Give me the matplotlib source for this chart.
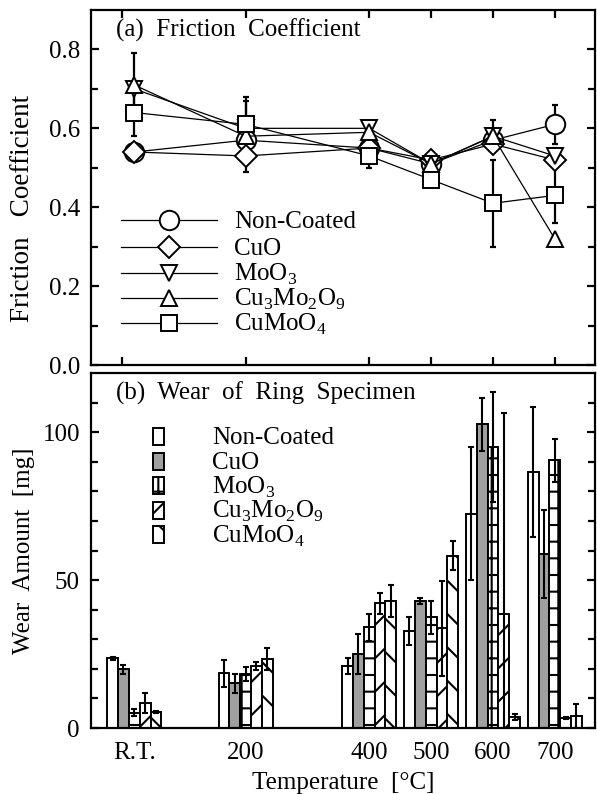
import matplotlib
matplotlib.use("Agg")
import matplotlib.pyplot as plt
import numpy as np
from matplotlib.patches import Rectangle

plt.rcParams['font.family'] = ['Liberation Serif', 'DejaVu Serif']
plt.rcParams['font.size'] = 18
plt.rcParams['mathtext.fontset'] = 'custom'
plt.rcParams['mathtext.rm'] = 'Liberation Serif'
plt.rcParams['hatch.linewidth'] = 1.5

# temperatures (R.T. plotted at 20 C)
temps = np.array([20, 200, 400, 500, 600, 700])
temp_labels = ["R.T.", "200", "400", "500", "600", "700"]

labels = ["Non-Coated", "CuO", "MoO$_3$", "Cu$_3$Mo$_2$O$_9$", "CuMoO$_4$"]

# (a) friction coefficient
fc_noncoated = [0.54, 0.57, 0.55, 0.51, 0.57, 0.61]
fc_cuo = [0.54, 0.53, 0.55, 0.52, 0.56, 0.52]
fc_moo3 = [0.70, 0.60, 0.60, 0.51, 0.58, 0.53]
fc_cu3mo2o9 = [0.71, 0.58, 0.59, 0.51, 0.58, 0.32]
fc_cumoo4 = [0.64, 0.61, 0.53, 0.47, 0.41, 0.43]

fc_err_noncoated = [0, 0, 0, 0, 0, 0.05]
fc_err_cuo = [0, 0, 0, 0, 0, 0]
fc_err_moo3 = [0, 0, 0, 0, 0.04, 0.02]
fc_err_cu3mo2o9 = [0.08, 0.09, 0, 0, 0, 0]
fc_err_cumoo4 = [0.06, 0.07, 0.03, 0, 0.11, 0.07]

# (b) wear of ring specimen [mg]
wear_noncoated = [23.5, 18.5, 20.9, 32.9, 72.5, 86.6]
wear_cuo = [19.8, 15.1, 25.0, 42.9, 102.7, 58.8]
wear_moo3 = [5.2, 18.2, 34.0, 37.4, 95.0, 90.5]
wear_cu3mo2o9 = [8.5, 20.9, 42.1, 33.7, 38.4, 3.5]
wear_cumoo4 = [5.5, 23.4, 42.9, 58.2, 3.8, 4.1]

wear_err_noncoated = [0.5, 4.5, 2.8, 4.7, 22.5, 22.0]
wear_err_cuo = [1.5, 3.3, 6.9, 1.0, 9.0, 15.0]
wear_err_moo3 = [1.1, 2.4, 4.6, 5.6, 18.7, 7.3]
wear_err_cu3mo2o9 = [3.5, 1.4, 3.7, 16.0, 68.0, 0.3]
wear_err_cumoo4 = [0.3, 3.8, 5.3, 4.9, 1.0, 4.0]

fc_data = [fc_noncoated, fc_cuo, fc_moo3, fc_cu3mo2o9, fc_cumoo4]
fc_errs = [fc_err_noncoated, fc_err_cuo, fc_err_moo3, fc_err_cu3mo2o9, fc_err_cumoo4]
wear_data = [wear_noncoated, wear_cuo, wear_moo3, wear_cu3mo2o9, wear_cumoo4]
wear_errs = [wear_err_noncoated, wear_err_cuo, wear_err_moo3, wear_err_cu3mo2o9, wear_err_cumoo4]

markers = ['o', 'D', 'v', '^', 's']
msizes = [14, 11, 12, 12, 11]
bar_colors = ['white', '#a0a0a0', 'white', 'white', 'white']
hatches = [None, None, '+', '/', '\\']

fig = plt.figure(figsize=(5.97, 7.94), dpi=100)
ax1 = fig.add_axes([0.1524, 0.5403, 0.8442, 0.4471])
ax2 = fig.add_axes([0.1524, 0.0831, 0.8442, 0.4471])

for ax in (ax1, ax2):
    for s in ax.spines.values():
        s.set_linewidth(1.6)
    ax.set_xlim(-50, 765)

# ---- (a) friction coefficient
for vals, errs, m, ms in zip(fc_data, fc_errs, markers, msizes):
    errs = np.array(errs)
    has = errs > 0
    ax1.errorbar(temps[has], np.array(vals)[has], yerr=errs[has], fmt='none',
                 ecolor='k', elinewidth=1.6, capsize=2.5, capthick=1.6, zorder=2)
    ax1.plot(temps, vals, color='k', lw=0.9, marker=m, ms=ms, mfc='white',
             mec='k', mew=1.4, zorder=3)

ax1.set_ylim(0, 0.9)
ax1.set_yticks([0.0, 0.2, 0.4, 0.6, 0.8])
ax1.set_yticks(np.arange(0.1, 0.9, 0.2), minor=True)
ax1.set_xticks([0, 200, 400, 500, 600, 700])
ax1.tick_params(which='both', direction='in', top=True, right=True,
                labelbottom=False, width=1.6)
ax1.tick_params(which='major', length=6, pad=8)
ax1.tick_params(which='minor', length=5)
ax1.yaxis.set_major_formatter(matplotlib.ticker.FormatStrFormatter('%.1f'))
ax1.set_ylabel('Friction   Coefficient', fontsize=19.5)
ax1.yaxis.set_label_coords(-0.112, 0.44)
ax1.text(0.05, 0.944, '(a)  Friction  Coefficient', transform=ax1.transAxes,
         ha='left', va='center')

# legend (a)
leg_rows = [0.408, 0.332, 0.259, 0.189, 0.118]
for lab, m, ms, y in zip(labels, markers, msizes, leg_rows):
    ax1.plot([0.06, 0.25], [y, y], transform=ax1.transAxes, color='k', lw=0.9,
             clip_on=False, zorder=3)
    ax1.plot([0.155], [y], transform=ax1.transAxes, marker=m, ms=ms, mfc='white',
             mec='k', mew=1.4, clip_on=False, zorder=4)
    ax1.text(0.284, y - 0.022, lab, transform=ax1.transAxes, ha='left', va='baseline')

# ---- (b) wear
w = 17.5
for i, (vals, errs, c, h) in enumerate(zip(wear_data, wear_errs, bar_colors, hatches)):
    x = temps + (i - 2) * w
    ax2.bar(x, vals, width=w, color=c, edgecolor='k', linewidth=1.4, hatch=h, zorder=2)
    ax2.errorbar(x, vals, yerr=errs, fmt='none', ecolor='k', elinewidth=1.5,
                 capsize=2.5, capthick=1.5, zorder=3)

ax2.set_ylim(0, 120)
ax2.set_yticks([0, 50, 100])
ax2.set_yticks(np.arange(10, 120, 10), minor=True)
ax2.set_xticks(temps)
ax2.set_xticklabels(temp_labels)
ax2.tick_params(axis='y', which='both', direction='in', right=True, width=1.6)
ax2.tick_params(axis='y', which='major', length=6, pad=8)
ax2.tick_params(axis='y', which='minor', length=5)
ax2.tick_params(axis='x', length=0, pad=10)
ax2.set_ylabel('Wear  Amount  [mg]')
ax2.yaxis.set_label_coords(-0.112, 0.5)
ax2.set_xlabel('Temperature  [°C]', labelpad=6)
ax2.text(0.05, 0.944, '(b)  Wear  of  Ring  Specimen', transform=ax2.transAxes,
         ha='left', va='center')

# legend (b)
leg_rows_b = [0.8225, 0.752, 0.682, 0.614, 0.544]
for lab, c, h, y in zip(labels, bar_colors, hatches, leg_rows_b):
    ax2.add_patch(Rectangle((0.123, y - 0.024), 0.022, 0.048, transform=ax2.transAxes,
                            facecolor=c, edgecolor='k', linewidth=1.4, hatch=h,
                            zorder=3))
    ax2.text(0.240, y - 0.022, lab, transform=ax2.transAxes, ha='left', va='baseline')

fig.savefig('out.png', dpi=100)
